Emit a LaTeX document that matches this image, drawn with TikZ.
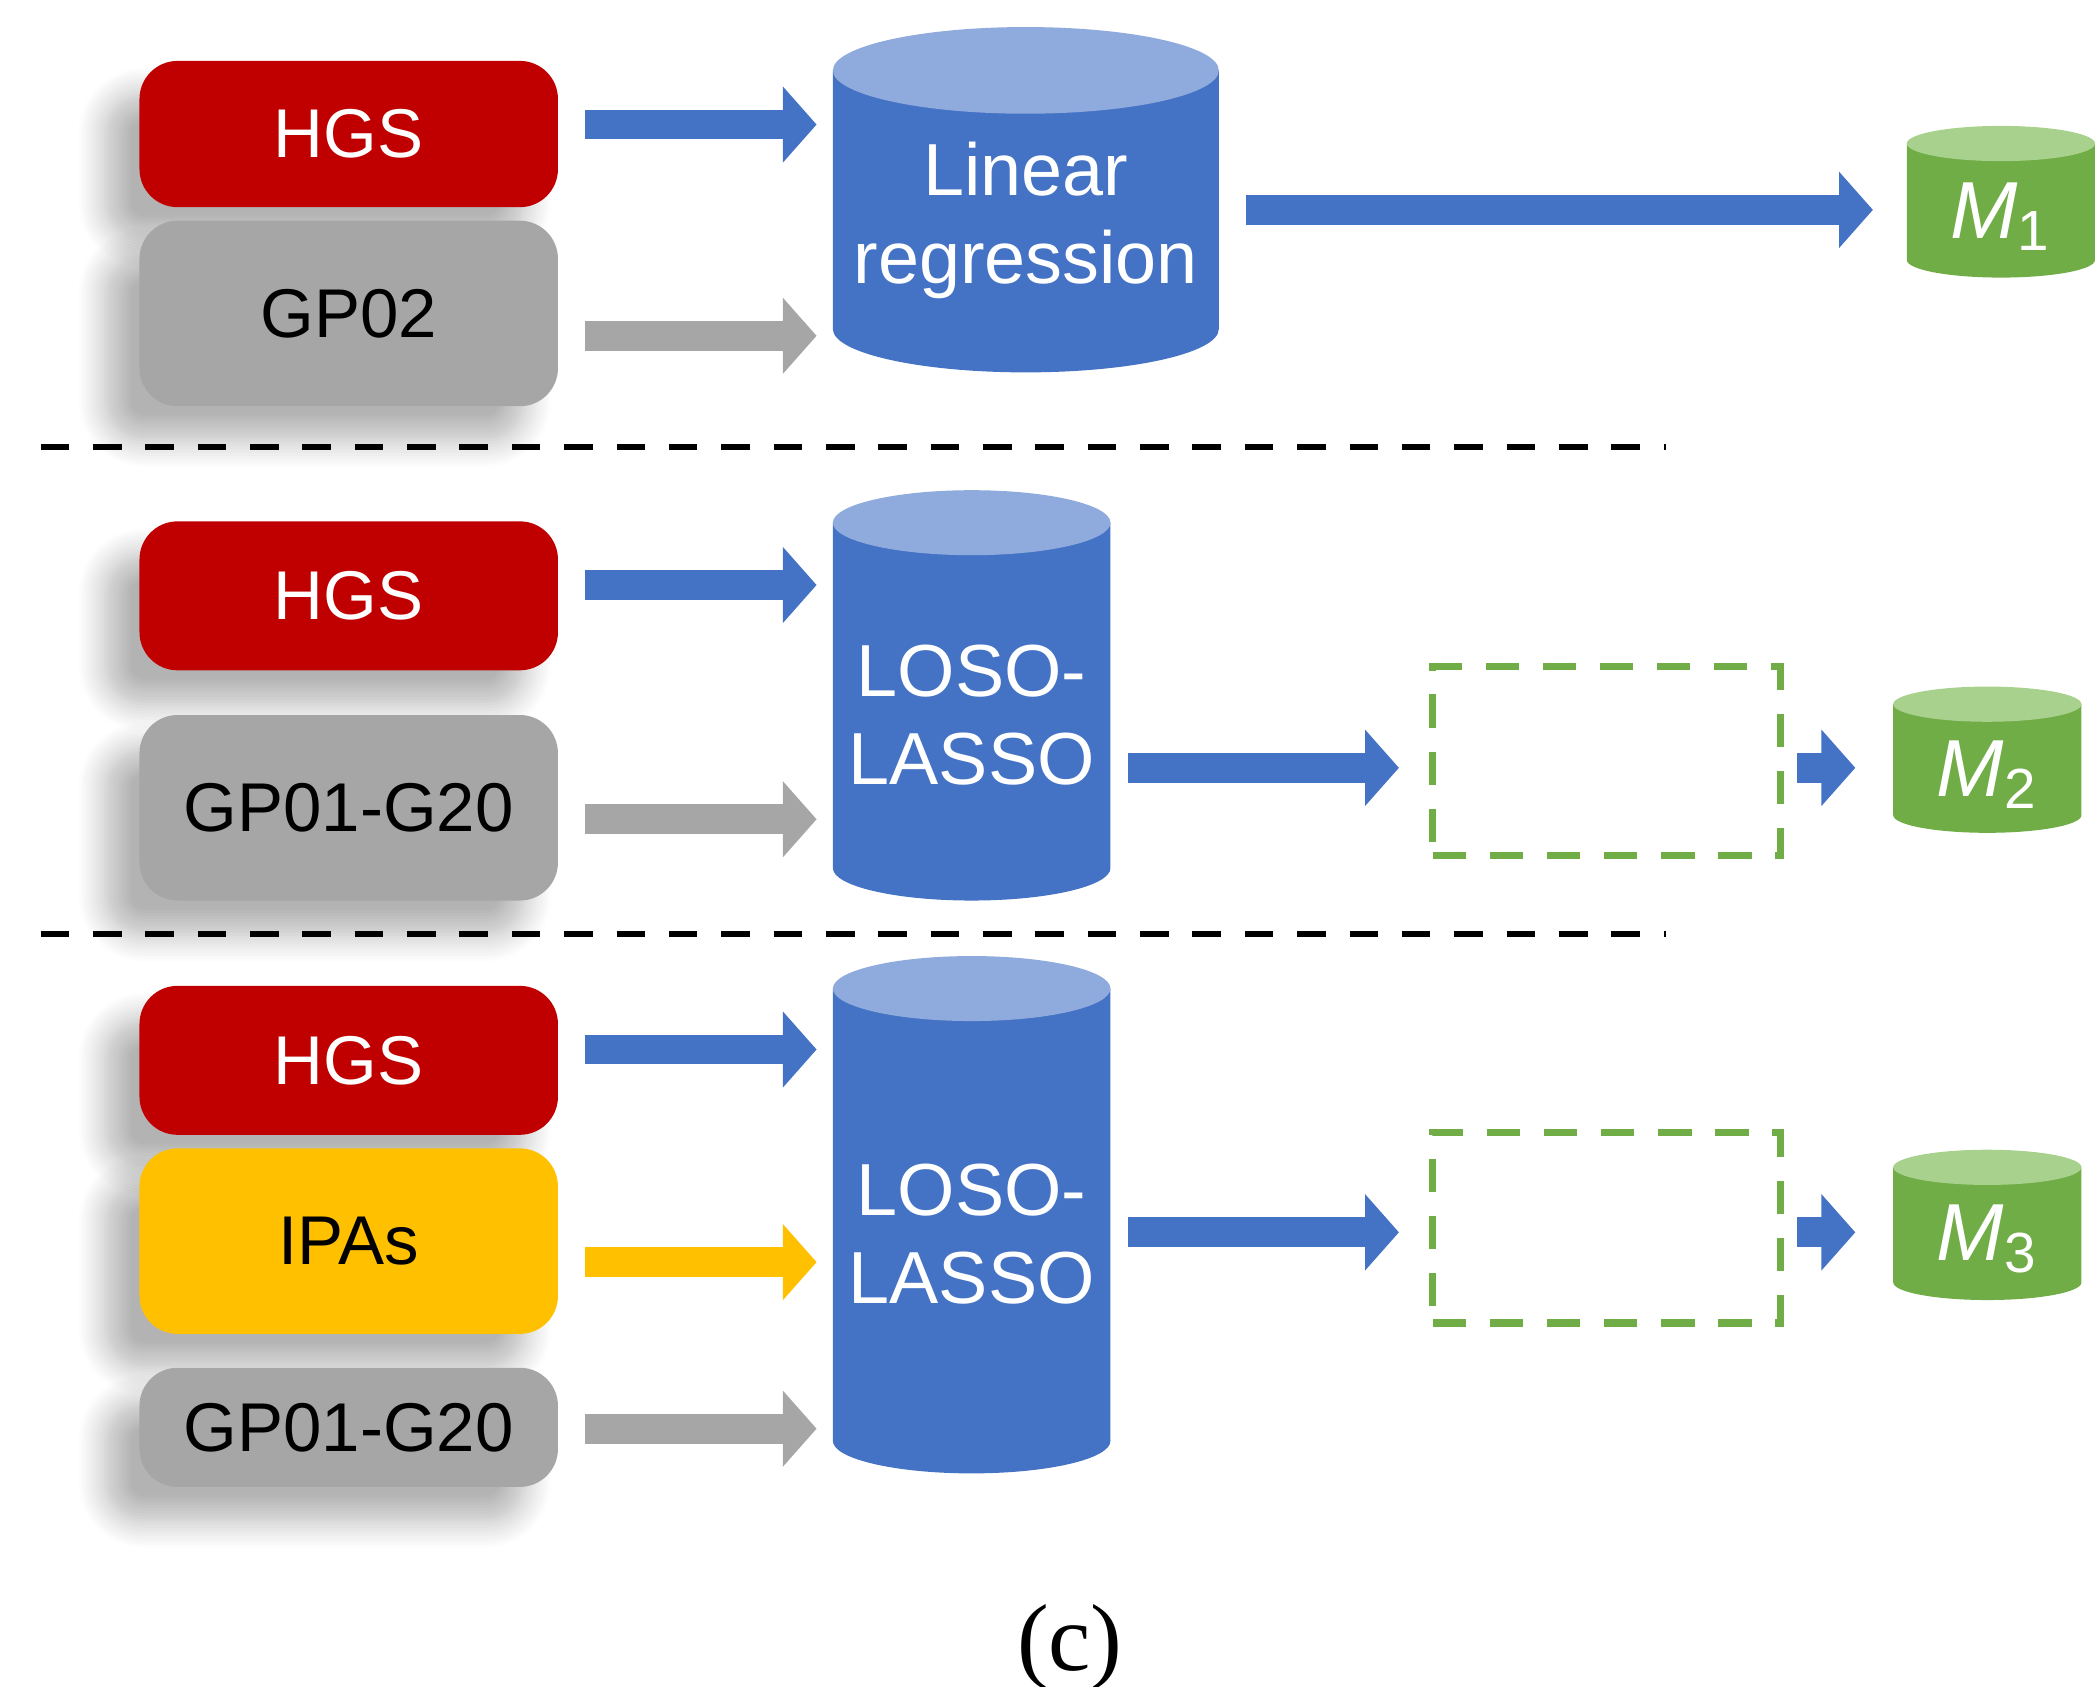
\documentclass[tikz,border=0pt]{standalone}
\usepackage{fontspec}
\setmainfont{Liberation Sans}
\newfontfamily\serif{Liberation Serif}
\usetikzlibrary{arrows.meta,shadows.blur}
\definecolor{cblue}{HTML}{4472C4}
\definecolor{ctop}{HTML}{8FAADC}
\definecolor{cred}{HTML}{C00000}
\definecolor{cgray}{HTML}{A6A6A6}
\definecolor{cyel}{HTML}{FFC000}
\definecolor{cgreen}{HTML}{70AD47}
\definecolor{cgtop}{HTML}{A9D18E}
\tikzset{
 box/.style={rounded corners=8pt, minimum width=3.09cm, font=\fontsize{14.5}{17}\selectfont,
   blur shadow={shadow xshift=-0.25cm, shadow yshift=-0.25cm, shadow blur steps=10, shadow blur radius=0.2cm, shadow opacity=30}},
 redbox/.style={box, fill=cred, text=white},
 graybox/.style={box, fill=cgray, text=black},
 yelbox/.style={box, fill=cyel, text=black},
 barrow/.style={line width=0.22cm, -{Triangle[width=0.55cm,length=0.25cm]}},
 cyltext/.style={text=white, align=center, font=\fontsize{15.5}{18.5}\selectfont},
 mtext/.style={text=white, font=\fontsize{17}{20}\selectfont},
 sep/.style={line width=1.3pt, dash pattern=on 6pt off 5pt},
 gdash/.style={draw=cgreen, line width=1.5pt, dash pattern=on 7pt off 5pt},
}
\newcommand{\cyl}[7]{% cx, rx, yt, yb, ry, body, top
 \fill[#6] (#1-#2,#3) -- (#1-#2,#4) arc[start angle=180,end angle=360,x radius=#2,y radius=#5] -- (#1+#2,#3) -- cycle;
 \fill[#7] (#1,#3) ellipse [x radius=#2, y radius=#5];}
\begin{document}
\begin{tikzpicture}
\useasboundingbox (0,0) rectangle (15.47,12.45);
% separators
\draw[sep] (0.30,9.15) -- (12.30,9.15);
\draw[sep] (0.30,5.55) -- (12.30,5.55);
% boxes
\node[redbox, minimum height=1.08cm] (h1) at (2.575,11.46) {HGS};
\node[graybox, minimum height=1.37cm] (g1) at (2.575,10.135) {GP02};
\node[redbox, minimum height=1.1cm] (h2) at (2.575,8.05) {HGS};
\node[graybox, minimum height=1.37cm] (g2) at (2.575,6.485) {GP01-G20};
\node[redbox, minimum height=1.1cm] (h3) at (2.575,4.62) {HGS};
\node[yelbox, minimum height=1.37cm] (i3) at (2.575,3.285) {IPAs};
\node[graybox, minimum height=0.88cm] (g3) at (2.575,1.91) {GP01-G20};
% cylinders
\cyl{7.575}{1.425}{11.93}{10.02}{0.32}{cblue}{ctop}
\node[cyltext] (lr) at (7.575,10.82) {Linear\\regression};
\cyl{7.175}{1.025}{8.59}{6.04}{0.24}{cblue}{ctop}
\node[cyltext] (l2) at (7.175,7.17) {LOSO-\\LASSO};
\cyl{7.175}{1.025}{5.15}{1.81}{0.24}{cblue}{ctop}
\node[cyltext] (l3) at (7.175,3.34) {LOSO-\\LASSO};
\cyl{14.775}{0.695}{11.39}{10.53}{0.13}{cgreen}{cgtop}
\node[mtext] (m1) at (14.775,10.85) {\textit{M}\textsubscript{1}};
\cyl{14.675}{0.695}{7.25}{6.43}{0.13}{cgreen}{cgtop}
\node[mtext] (m2) at (14.675,6.73) {\textit{M}\textsubscript{2}};
\cyl{14.675}{0.695}{3.83}{2.98}{0.13}{cgreen}{cgtop}
\node[mtext] (m3) at (14.675,3.30) {\textit{M}\textsubscript{3}};
% dashed boxes
\node[gdash, minimum width=2.57cm, minimum height=1.40cm] (d2) at (11.865,6.83) {};
\node[gdash, minimum width=2.57cm, minimum height=1.41cm] (d3) at (11.865,3.385) {};
% arrow coordinates
\foreach \n/\y in {a/11.53,b/9.97,c/8.13,d/6.40,e/4.70,f/3.13,g/1.90}{
 \coordinate (\n s) at (4.32,\y); \coordinate (\n t) at (6.03,\y);}
\coordinate (ls) at (9.20,10.90); \coordinate (lt) at (13.83,10.90);
\coordinate (p2s) at (8.33,6.78); \coordinate (p2t) at (10.33,6.78);
\coordinate (q2s) at (13.27,6.78); \coordinate (q2t) at (13.70,6.78);
\coordinate (p3s) at (8.33,3.35); \coordinate (p3t) at (10.33,3.35);
\coordinate (q3s) at (13.27,3.35); \coordinate (q3t) at (13.70,3.35);
\foreach \n in {a,c,e}{\draw[barrow,cblue] (\n s) -- (\n t);}
\foreach \n in {b,d,g}{\draw[barrow,cgray] (\n s) -- (\n t);}
\draw[barrow,cyel] (fs) -- (ft);
\draw[barrow,cblue] (ls) -- (lt);
\draw[barrow,cblue] (p2s) -- (p2t);
\draw[barrow,cblue] (q2s) -- (q2t);
\draw[barrow,cblue] (p3s) -- (p3t);
\draw[barrow,cblue] (q3s) -- (q3t);
\node[font=\serif\fontsize{20}{24}\selectfont] (cap) at (7.90,0.28) {(c)};
\end{tikzpicture}
\end{document}
